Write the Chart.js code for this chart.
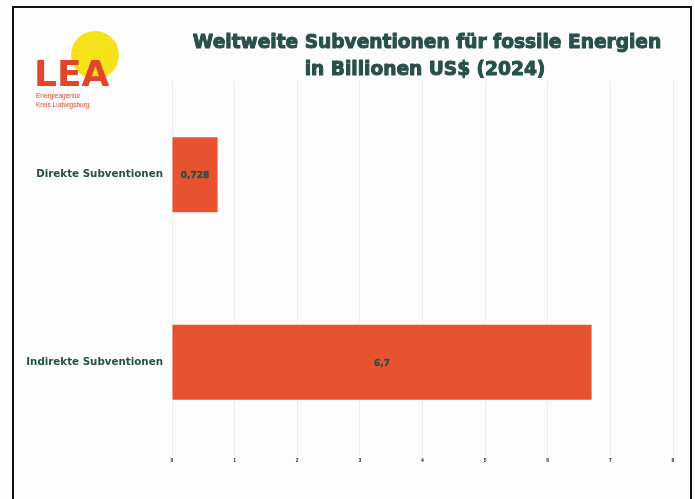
<!DOCTYPE html>
<html>
<head>
<meta charset="utf-8">
<script src="https://cdn.jsdelivr.net/npm/chart.js@4/dist/chart.umd.min.js"></script>
<style>
  html, body { margin: 0; padding: 0; background: #fff; }
  #wrap { position: relative; width: 695px; height: 499px; }
</style>
</head>
<body>
<div id="wrap"><canvas id="chart" width="695" height="499"></canvas></div>
<script>
// data
const categories = ['Direkte Subventionen', 'Indirekte Subventionen'];
const values = [0.728, 6.7];
const valueLabels = ['0,728', '6,7'];
const titleLines = ['Weltweite Subventionen für fossile Energien', 'in Billionen US$ (2024)'];
const logoLines = ['Energieagentur', 'Kreis Ludwigsburg'];

const TEAL = '#28504a';
const ORANGE = '#e8532f';
const HEAVY = '"DejaVu Sans", sans-serif';

// heavy text: fill plus a thin stroke to thicken the strokes
function heavyText(ctx, text, x, y, w) {
    ctx.lineWidth = w;
    ctx.strokeStyle = ctx.fillStyle;
    ctx.lineJoin = 'round';
    ctx.strokeText(text, x, y);
    ctx.fillText(text, x, y);
}

// frame, logo, title and value labels
const decorPlugin = {
    id: 'decor',
    beforeDraw(chart) {
        const ctx = chart.ctx;
        ctx.save();
        ctx.fillStyle = '#fdfdfd';
        ctx.fillRect(0, 0, chart.width, chart.height);
        ctx.strokeStyle = '#111';
        ctx.lineWidth = 2;
        ctx.beginPath();
        ctx.moveTo(13, 520); ctx.lineTo(13, 7); ctx.lineTo(691, 7); ctx.lineTo(691, 520);
        ctx.stroke();
        ctx.restore();
    },
    afterDraw(chart) {
        const ctx = chart.ctx;
        ctx.save();
        // logo
        ctx.fillStyle = '#f6e21a';
        ctx.beginPath();
        ctx.arc(95, 55, 24, 0, Math.PI * 2);
        ctx.fill();
        ctx.fillStyle = '#e2452a';
        ctx.font = 'bold 36px "DejaVu Sans", sans-serif';
        ctx.textBaseline = 'alphabetic';
        ctx.textAlign = 'left';
        ctx.fillText('LEA', 34, 86);
        ctx.font = '6.5px "Liberation Sans Narrow", "Liberation Sans", sans-serif';
        ctx.fillText(logoLines[0], 36, 98);
        ctx.fillText(logoLines[1], 36, 107);
        // title
        ctx.fillStyle = TEAL;
        ctx.textAlign = 'center';
        ctx.font = 'bold 18.6px ' + HEAVY;
        heavyText(ctx, titleLines[0], 427, 48, 1);
        heavyText(ctx, titleLines[1], 425, 75, 1);
        // value labels inside bars
        const meta = chart.getDatasetMeta(0);
        ctx.font = 'bold 9px ' + HEAVY;
        ctx.textBaseline = 'middle';
        meta.data.forEach((bar, i) => {
            const cx = (bar.base + bar.x) / 2;
            heavyText(ctx, valueLabels[i], cx, bar.y + 1, 0.4);
        });
        ctx.restore();
    }
};

new Chart(document.getElementById('chart'), {
    type: 'bar',
    data: {
        labels: categories,
        datasets: [{
            data: values,
            backgroundColor: ORANGE,
            borderWidth: 0,
            categoryPercentage: 0.4,
            barPercentage: 1
        }]
    },
    options: {
        indexAxis: 'y',
        responsive: false,
        animation: false,
        layout: { padding: { top: 81, left: 20, right: 22, bottom: 33 } },
        plugins: { legend: { display: false }, tooltip: { enabled: false } },
        scales: {
            x: {
                min: 0, max: 8,
                ticks: { stepSize: 1, color: '#222', font: { size: 5, weight: 'bold' }, padding: 2 },
                grid: { color: '#ececec', drawTicks: false },
                border: { display: false }
            },
            y: {
                afterFit(scale) { scale.width = 152; },
                ticks: { color: TEAL, font: { family: HEAVY, size: 10.3, weight: 'bold' }, padding: 1 },
                grid: { display: false },
                border: { display: false }
            }
        }
    },
    plugins: [decorPlugin]
});
</script>
</body>
</html>
